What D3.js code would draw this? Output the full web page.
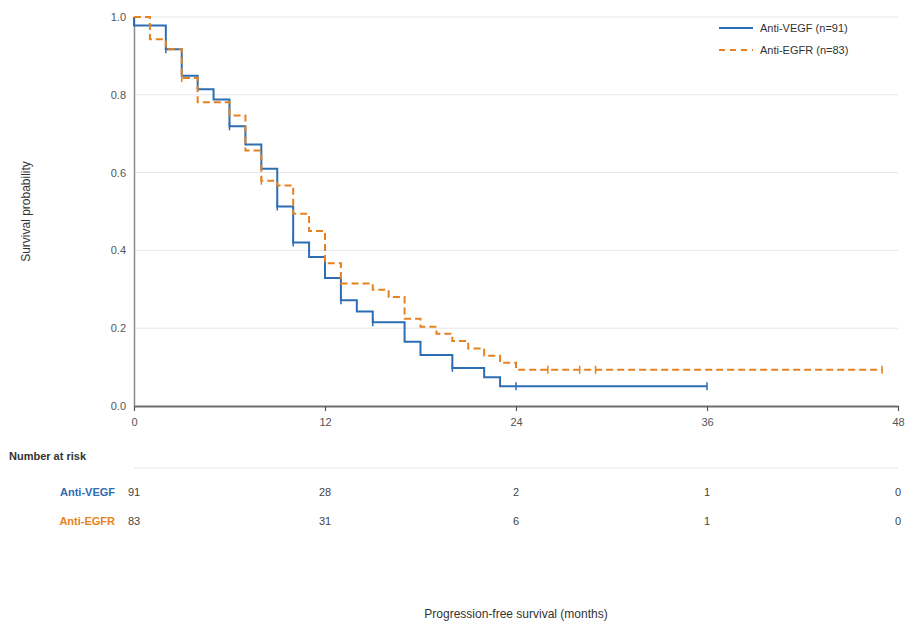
<!DOCTYPE html>
<html>
<head>
<meta charset="utf-8">
<script src="https://cdn.jsdelivr.net/npm/d3@7"></script>
<style>
  body { margin: 0; background: #fff; }
  svg { font-family: "Liberation Sans", Arial, sans-serif; }
</style>
</head>
<body>
<div id="chart"></div>
<script>
// Kaplan-Meier step data (time in months, survival after the drop)
const vegfTimes = [0, 2, 3, 4, 5, 6, 7, 8, 9, 10, 11, 12, 13, 14, 15, 17, 18, 20, 22, 23];
const vegfSurv  = [0.978, 0.917, 0.849, 0.814, 0.788, 0.719, 0.672, 0.610, 0.513, 0.420, 0.383, 0.329, 0.272, 0.243, 0.215, 0.165, 0.131, 0.098, 0.074, 0.051];
const vegfEnd = 36;
const vegfCensor = [2, 6, 9, 10, 13, 15, 20, 24, 36];

const egfrTimes = [1, 2, 3, 4, 6, 7, 8, 9, 10, 11, 12, 13, 15, 16, 17, 18, 19, 20, 21, 22, 23, 24];
const egfrSurv  = [0.943, 0.917, 0.843, 0.781, 0.747, 0.657, 0.579, 0.567, 0.494, 0.450, 0.367, 0.315, 0.299, 0.280, 0.224, 0.204, 0.186, 0.167, 0.148, 0.129, 0.111, 0.093];
const egfrEnd = 47;
const egfrCensor = [3, 8, 26, 28, 29, 47];

const seriesNames = ["Anti-VEGF", "Anti-EGFR"];
const seriesN = [91, 83];
const riskTimes = [0, 12, 24, 36, 48];
const riskVegf = [91, 28, 2, 1, 0];
const riskEgfr = [83, 31, 6, 1, 0];
const xTicks = [0, 12, 24, 36, 48];
const yTicks = [0, 0.2, 0.4, 0.6, 0.8, 1.0];

const colors = ["#2d6db3", "#e6821e"];

const width = 912, height = 630;
const margin = {top: 17, right: 14, left: 134};
const plotBottom = 406;

const svg = d3.select("#chart").append("svg")
  .attr("width", width).attr("height", height);

const x = d3.scaleLinear().domain([0, 48]).range([margin.left, width - margin.right]);
const y = d3.scaleLinear().domain([0, 1]).range([plotBottom, margin.top]);

// gridlines
svg.append("g")
  .selectAll("line")
  .data(yTicks.filter(d => d > 0))
  .join("line")
  .attr("x1", x(0)).attr("x2", x(48))
  .attr("y1", d => y(d)).attr("y2", d => y(d))
  .attr("stroke", "#e4e6ec").attr("stroke-width", 1);

// y axis
const yAxis = svg.append("g")
  .attr("transform", `translate(${margin.left},0)`)
  .call(d3.axisLeft(y).tickValues(yTicks).tickFormat(d3.format(".1f")).tickSize(0).tickPadding(8));
yAxis.select(".domain").attr("stroke", "#8a8a8a").attr("stroke-width", 1.5);
yAxis.selectAll("text").attr("fill", "#555").style("font-size", "11px");

// x axis
const xAxis = svg.append("g")
  .attr("transform", `translate(0,${plotBottom})`)
  .call(d3.axisBottom(x).tickValues(xTicks).tickSize(5).tickPadding(7).tickSizeOuter(0));
xAxis.select(".domain").attr("stroke", "#6e6e6e").attr("stroke-width", 2);
xAxis.selectAll(".tick line").attr("stroke", "#555").attr("stroke-width", 1.2);
xAxis.selectAll("text").attr("fill", "#555").style("font-size", "11px");

// axis titles
svg.append("text")
  .attr("transform", `translate(30,${(margin.top + plotBottom) / 2}) rotate(-90)`)
  .attr("text-anchor", "middle")
  .attr("fill", "#333")
  .style("font-size", "12px")
  .text("Survival probability");

svg.append("text")
  .attr("x", (x(0) + x(48)) / 2).attr("y", 618)
  .attr("text-anchor", "middle")
  .attr("fill", "#333")
  .style("font-size", "12px")
  .text("Progression-free survival (months)");

// curves
function buildSteps(times, surv, end) {
  const pts = [{t: 0, s: 1}];
  times.forEach((t, i) => pts.push({t: t, s: surv[i]}));
  pts.push({t: end, s: surv[surv.length - 1]});
  return pts;
}
function survAt(times, surv, t) {
  let s = 1;
  times.forEach((tt, i) => { if (tt <= t) s = surv[i]; });
  return s;
}

const line = d3.line().x(d => x(d.t)).y(d => y(d.s)).curve(d3.curveStepAfter);

const curves = [
  {times: vegfTimes, surv: vegfSurv, end: vegfEnd, censor: vegfCensor, dash: null},
  {times: egfrTimes, surv: egfrSurv, end: egfrEnd, censor: egfrCensor, dash: "7,4"}
];

curves.forEach((c, i) => {
  svg.append("path")
    .datum(buildSteps(c.times, c.surv, c.end))
    .attr("d", line)
    .attr("fill", "none")
    .attr("stroke", colors[i])
    .attr("stroke-width", 2)
    .attr("stroke-dasharray", c.dash);

  svg.append("g")
    .selectAll("line")
    .data(c.censor)
    .join("line")
    .attr("x1", d => x(d)).attr("x2", d => x(d))
    .attr("y1", d => y(survAt(c.times, c.surv, d)) - 4)
    .attr("y2", d => y(survAt(c.times, c.surv, d)) + 4)
    .attr("stroke", colors[i])
    .attr("stroke-width", 1.5);
});

// legend
const legend = svg.append("g").attr("transform", "translate(719,28)");
seriesNames.forEach((name, i) => {
  const g = legend.append("g").attr("transform", `translate(0,${i * 22})`);
  g.append("line")
    .attr("x1", 0).attr("x2", 34).attr("y1", 0).attr("y2", 0)
    .attr("stroke", colors[i]).attr("stroke-width", 2)
    .attr("stroke-dasharray", i === 1 ? "6,5" : null);
  g.append("text")
    .attr("x", 41).attr("y", 0).attr("dy", "0.35em")
    .attr("fill", "#333")
    .style("font-size", "11px")
    .text(`${name} (n=${seriesN[i]})`);
});

// number at risk table
svg.append("text")
  .attr("x", 9).attr("y", 460)
  .attr("fill", "#333")
  .attr("font-weight", "bold")
  .style("font-size", "11px")
  .text("Number at risk");

svg.append("line")
  .attr("x1", x(0)).attr("x2", x(48))
  .attr("y1", 468).attr("y2", 468)
  .attr("stroke", "#e4e6ec").attr("stroke-width", 1);

const riskRows = [riskVegf, riskEgfr];
riskRows.forEach((row, i) => {
  const yy = 492 + i * 29;
  svg.append("text")
    .attr("x", 115).attr("y", yy).attr("dy", "0.35em")
    .attr("text-anchor", "end")
    .attr("fill", colors[i])
    .attr("font-weight", "bold")
    .style("font-size", "11px")
    .text(seriesNames[i]);
  svg.append("g")
    .selectAll("text")
    .data(row)
    .join("text")
    .attr("x", (d, j) => x(riskTimes[j]))
    .attr("y", yy).attr("dy", "0.35em")
    .attr("text-anchor", "middle")
    .attr("fill", "#444")
    .style("font-size", "11px")
    .text(d => d);
});
</script>
</body>
</html>
